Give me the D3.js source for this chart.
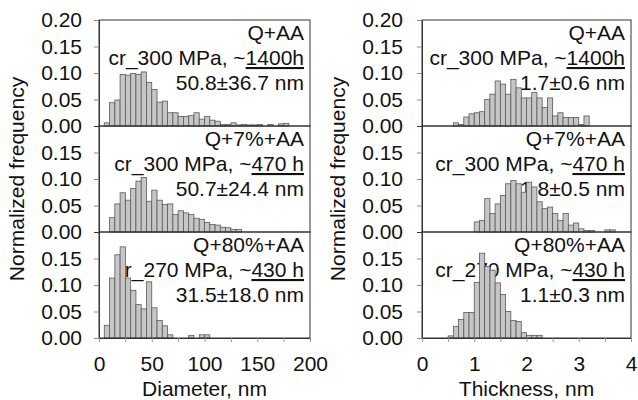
<!DOCTYPE html>
<html><head><meta charset="utf-8">
<script src="https://cdn.jsdelivr.net/npm/d3@7"></script>
<style>
html,body{margin:0;padding:0;background:#fff;}
svg text{font-family:"Liberation Sans",Arial,sans-serif;fill:#111;}
</style></head>
<body><svg id="c" width="638" height="400"></svg>
<script>
// ---------- data ----------
const diameterBinWidth = 5;          // nm
const thicknessBinWidth = 0.1;       // nm
// Diameter histograms (bin start, then normalized frequencies)
const diamStartQAA = 5;
const diamQAA = [0.006,0.044,0.049,0.097,0.096,0.099,0.097,0.102,0.082,0.069,0.045,0.047,0.025,0.025,0.018,0.018,0.020,0.025,0.013,0.018,0.011,0.009,0.003,0.003,0.006,0.002,0.003,0.002,0.002,0.003,0,0.003,0,0.004,0.005];
const diamStartQ7 = 10;
const diamQ7 = [0.027,0.053,0.074,0.060,0.082,0.096,0.103,0.058,0.079,0.060,0.052,0.053,0.033,0.040,0.036,0.033,0.026,0.024,0.018,0.014,0.013,0.009,0.008,0.005,0.005];
const diamStartQ80 = 5;
const diamQ80 = [0.024,0.113,0.157,0.172,0.113,0.090,0.063,0.055,0.106,0.057,0.033,0.023,0.006,0,0,0,0.005,0,0.006,0.006];
// Thickness histograms
const thickStartQAA = 0.6;
const thickQAA = [0.006,0.003,0.017,0.023,0.025,0.027,0.050,0.060,0.085,0.079,0.060,0.088,0.072,0.053,0.053,0.063,0.053,0.035,0.053,0.019,0.025,0.016,0.016,0.016,0.003,0.019];
const thickStartQ7 = 1.0;
const thickQ7 = [0.019,0.022,0.063,0.035,0.053,0.069,0.091,0.097,0.091,0.075,0.094,0.085,0.057,0.044,0.047,0.035,0.022,0.035,0.013,0.017,0.006,0.003,0.003,0,0,0.004,0.004];
const thickStartQ80 = 0.5;
const thickQ80 = [0.004,0.022,0.035,0.048,0.048,0.105,0.160,0.135,0.128,0.104,0.082,0.050,0.033,0.031,0.010,0.005,0.005,0.005];

const panelTitles = ["Q+AA","Q+7%+AA","Q+80%+AA"];
const conditionPrefix = ["cr_300 MPa, ~","cr_300 MPa, ~","cr_270 MPa, ~"];
const conditionTime = ["1400h","470 h","430 h"];
const diamStats = ["50.8\u00b136.7 nm","50.7\u00b124.4 nm","31.5\u00b118.0 nm"];
const thickStats = ["1.7\u00b10.6 nm","1.8\u00b10.5 nm","1.1\u00b10.3 nm"];

const yTicksTop = [0,0.05,0.10,0.15,0.20];
const yTicksOther = [0,0.05,0.10,0.15];
const diamTickLabels = [0,50,100,150,200];
const thickTickLabels = [0,1,2,3,4];

// ---------- layout ----------
const svg = d3.select("#c");
const panelTop = 20, panelH = 106;
const FS = 21;
const fmt = d3.format(".2f");

function drawColumn(x0, x1, domainMax, binW, datasets, starts, stats, minorStep, labelVals, xTitle, yTitleX, tickLabelRight){
  const x = d3.scaleLinear().domain([0, domainMax]).range([x0, x1]);
  for(let p=0;p<3;p++){
    const top = panelTop + p*panelH;
    const y = d3.scaleLinear().domain([0,0.20]).range([top+panelH, top]);
    const g = svg.append("g");
    // annotation text (drawn below bars)
    const tx = x1 - 6;
    g.append("text").attr("x",tx).attr("y",top+20).attr("text-anchor","end").attr("font-size",FS).text(panelTitles[p]);
    const t2 = g.append("text").attr("x",tx).attr("y",top+45).attr("text-anchor","end").attr("font-size",FS);
    t2.append("tspan").text(conditionPrefix[p]);
    t2.append("tspan").style("text-decoration","underline").text(conditionTime[p]);
    g.append("text").attr("x",tx).attr("y",top+70).attr("text-anchor","end").attr("font-size",FS).text(stats[p]);
    // bars
    const data = datasets[p].map((v,i)=>({s: starts[p] + i*binW, v}));
    g.selectAll("rect.bar").data(data.filter(d=>d.v>0)).join("rect")
      .attr("class","bar")
      .attr("x", d=>x(d.s))
      .attr("width", d=>x(d.s+binW)-x(d.s))
      .attr("y", d=>y(d.v))
      .attr("height", d=>y(0)-y(d.v))
      .attr("fill","#c6c6c6").attr("stroke","#5a5a5a").attr("stroke-width",0.8);
    // frame
    g.append("rect").attr("x",x0).attr("y",top).attr("width",x1-x0).attr("height",panelH)
      .attr("fill","none").attr("stroke","#333").attr("stroke-width",1);
    // y axis
    const ax = d3.axisLeft(y).tickValues(p===0?yTicksTop:yTicksOther).tickSize(5).tickPadding(12).tickFormat(fmt);
    const ag = svg.append("g").attr("transform",`translate(${x0},0)`).call(ax);
    ag.select(".domain").attr("stroke","#333");
    ag.selectAll(".tick line").attr("stroke","#888");
    ag.selectAll(".tick text").attr("font-size",FS).attr("fill","#111").attr("x", tickLabelRight - x0);
  }
  // x axis
  const bottom = panelTop + 3*panelH;
  const minor = d3.range(0, domainMax + minorStep/2, minorStep);
  const xa = d3.axisBottom(x).tickValues(minor).tickSize(4).tickPadding(14)
    .tickFormat(d => labelVals.some(v=>Math.abs(v-d)<1e-9) ? d3.format("d")(d) : "");
  const xg = svg.append("g").attr("transform",`translate(0,${bottom})`).call(xa);
  xg.select(".domain").attr("stroke","#333");
  xg.selectAll(".tick line").attr("stroke","#999");
  xg.selectAll(".tick text").attr("font-size",FS).attr("fill","#111");
  svg.append("text").attr("x",(x0+x1)/2).attr("y",396).attr("text-anchor","middle").attr("font-size",FS).text(xTitle);
  svg.append("text").attr("transform",`translate(${yTitleX},${panelTop+1.5*panelH}) rotate(-90)`)
    .attr("text-anchor","middle").attr("font-size",FS).attr("fill","#333").text("Normalized frequency");
}

drawColumn(99, 310, 200, diameterBinWidth, [diamQAA,diamQ7,diamQ80], [diamStartQAA,diamStartQ7,diamStartQ80], diamStats, 25, diamTickLabels, "Diameter, nm", 24, 82);
drawColumn(422, 631, 4, thicknessBinWidth, [thickQAA,thickQ7,thickQ80], [thickStartQAA,thickStartQ7,thickStartQ80], thickStats, 0.5, thickTickLabels, "Thickness, nm", 345, 403);
</script></body></html>
